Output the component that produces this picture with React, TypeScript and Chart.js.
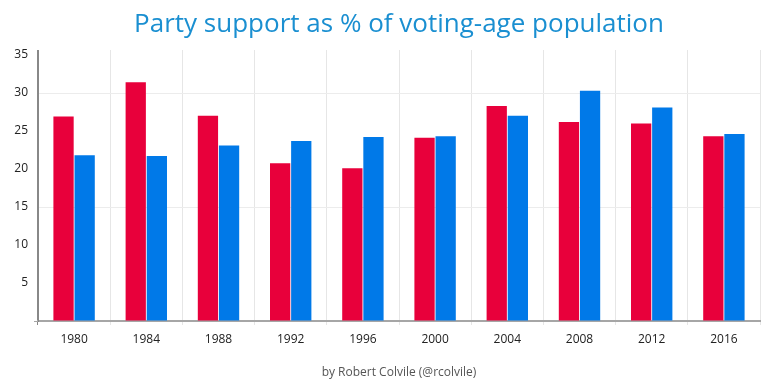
import React, { useEffect, useRef } from "react";
import { Chart, registerables } from "chart.js";

Chart.register(...registerables);

const TITLE = "Party support as % of voting-age population";
const CREDIT = "by Robert Colvile (@rcolvile)";
const years = ["1980", "1984", "1988", "1992", "1996", "2000", "2004", "2008", "2012", "2016"];
const republicans = [26.9, 31.4, 27.0, 20.75, 20.1, 24.1, 28.3, 26.2, 26.0, 24.3];
const democrats = [21.8, 21.7, 23.1, 23.7, 24.2, 24.3, 27.0, 30.3, 28.1, 24.6];
const yTicks = [0, 5, 10, 15, 20, 25, 30, 35];

const FONT = "'Open Sans', 'Noto Sans', sans-serif";

const textPlugin = {
  id: "textPlugin",
  afterDraw(chart: any) {
    const { ctx, chartArea } = chart;
    const cx = (chartArea.left + chartArea.right) / 2;
    ctx.save();
    ctx.textAlign = "center";
    ctx.textBaseline = "alphabetic";
    ctx.fillStyle = "#1a8fd1";
    ctx.font = `26px ${FONT}`;
    ctx.fillText(TITLE, cx, 32);
    ctx.fillStyle = "#555555";
    ctx.font = `12px ${FONT}`;
    ctx.fillText(CREDIT, cx, 376);
    ctx.restore();
  },
};

export default function App() {
  const ref = useRef<HTMLCanvasElement | null>(null);
  useEffect(() => {
    document.body.style.margin = "0";
    if (!ref.current) return;
    const chart = new Chart(ref.current, {
      type: "bar",
      data: {
        labels: years,
        datasets: [
          {
            label: "Republicans",
            data: republicans,
            backgroundColor: "#e8003b",
            barPercentage: 0.96,
            categoryPercentage: 0.585,
          },
          {
            label: "Democrats",
            data: democrats,
            backgroundColor: "#0079e8",
            barPercentage: 0.96,
            categoryPercentage: 0.585,
          },
        ],
      },
      options: {
        animation: false,
        responsive: false,
        maintainAspectRatio: false,
        layout: { padding: { top: 50, left: 0, right: 23, bottom: 38 } },
        plugins: {
          legend: { display: false },
          title: { display: false },
          tooltip: { enabled: false },
        },
        scales: {
          x: {
            afterFit: (s: any) => {
              s.height = 30;
            },
            border: { display: true, color: "#a6a6a6", width: 2 },
            grid: {
              offset: true,
              tickLength: 4,
              color: (c: any) => (c.index === 0 ? "#888888" : "#e6e6e6"),
              tickColor: (c: any) => (c.index === 0 ? "#888888" : "#e6e6e6"),
            },
            ticks: {
              color: "#222222",
              font: { family: FONT, size: 12 },
              padding: 7,
              maxRotation: 0,
            },
          },
          y: {
            min: 0,
            max: 35.66,
            afterFit: (s: any) => {
              s.width = 38;
            },
            afterBuildTicks: (s: any) => {
              s.ticks = yTicks.map((v) => ({ value: v }));
            },
            border: { display: true, color: "#888888", width: 1 },
            grid: {
              tickLength: 4,
              color: (c: any) =>
                c.tick && c.tick.value !== 0 && c.tick.value % 15 === 0 ? "#ececec" : "rgba(0,0,0,0)",
              tickColor: (c: any) => (c.tick && c.tick.value === 0 ? "#a6a6a6" : "rgba(0,0,0,0)"),
            },
            ticks: {
              color: "#222222",
              font: { family: FONT, size: 12 },
              padding: 6,
              includeBounds: false,
              callback: (v: any) => (v === 0 ? "" : String(v)),
            },
          },
        },
      },
      plugins: [textPlugin],
    });
    return () => chart.destroy();
  }, []);
  return (
    <div style={{ position: "absolute", left: 0, top: 0, width: 783, height: 389 }}>
      <canvas ref={ref} width={783} height={389} style={{ width: 783, height: 389 }} />
    </div>
  );
}
